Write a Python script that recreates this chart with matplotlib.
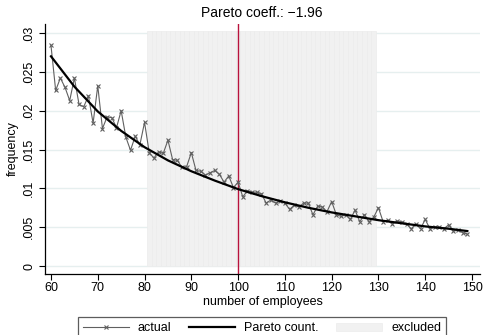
import matplotlib.pyplot as plt

plt.rcParams['font.family'] = ['Liberation Sans', 'DejaVu Sans']

# Data: frequency by number of employees
employees = list(range(60, 150))
actual = [
    .0284, .0226, .0242, .0230, .0213, .0242, .0208, .0205, .0219, .0184,
    .0232, .0177, .0192, .0191, .0178, .0200, .0166, .0149, .0167, .0156,
    .0185, .0146, .0139, .0147, .0145, .0162, .0137, .0136, .0127, .0128,
    .0146, .0123, .0122, .0117, .0120, .0123, .0118, .0108, .0116, .0101,
    .0108, .0089, .0097, .0095, .0095, .0093, .0081, .0085, .0081, .0084,
    .0081, .0073, .0078, .0076, .0081, .0081, .0066, .0077, .0076, .0070,
    .0083, .0066, .0064, .0066, .0060, .0072, .0057, .0066, .0057, .0063,
    .0075, .0057, .0059, .0054, .0058, .0057, .0054, .0048, .0054, .0048,
    .0060, .0048, .0050, .0050, .0048, .0053, .0045, .0046, .0043, .0041,
]

# fitted Pareto count
fit_x = [60, 65, 70, 75, 80, 85, 90, 95, 100, 105, 110, 115, 120, 125, 130, 135, 140, 145, 149]
fit_y = [.0270, .0231, .0199, .0174, .0153, .0136, .0122, .0110, .0099, .0090,
         .0082, .0075, .0069, .0064, .0059, .0055, .0051, .0048, .0045]

# excluded bins (shaded) and threshold
excluded = list(range(81, 130))
excluded_top = 0.0303
cutoff = 100
title = 'Pareto coeff.: \u22121.96'

fig = plt.figure(figsize=(4.84, 3.35), dpi=100)
ax = fig.add_axes([45 / 484, 61 / 335, 435 / 484, 250 / 335])

# grid first, shading on top of it
for t in [0, .005, .01, .015, .02, .025, .03]:
    ax.axhline(t, color='#e6efef', lw=1, zorder=0)

bars = ax.bar(excluded, [excluded_top] * len(excluded), width=1,
              color='#f1f1f1', edgecolor='#ececec', linewidth=0.5, zorder=1,
              label='excluded')

ax.axvline(cutoff, color='#b8123c', lw=1, zorder=2)

l1, = ax.plot(employees, actual, color='#606060', lw=0.8, marker='x',
              markersize=3.5, markeredgewidth=0.8, zorder=3, label='actual')
l2, = ax.plot(fit_x, fit_y, color='black', lw=1.6, zorder=4, label='Pareto count.')

ax.set_xlim(58.72, 151.71)
ax.set_ylim(-0.00103, 0.03116)
ax.set_xticks(range(60, 151, 10))
ax.set_yticks([0, .005, .01, .015, .02, .025, .03])
ax.set_yticklabels(['0', '.005', '.01', '.015', '.02', '.025', '.03'],
                   rotation=90, va='center')
ax.tick_params(labelsize=9, length=4, width=0.8, pad=2)
ax.tick_params(axis='y', pad=3)

for s in ['top', 'right']:
    ax.spines[s].set_visible(False)
for s in ['left', 'bottom']:
    ax.spines[s].set_linewidth(0.9)

ax.set_xlabel('number of employees', fontsize=9, labelpad=1)
ax.set_ylabel('frequency', fontsize=9, labelpad=3)
fig.text(262 / 484, 1 - 13 / 335, title, ha='center', va='center', fontsize=10)

leg = fig.legend([l1, l2, bars], ['actual', 'Pareto count.', 'excluded'],
                 loc='upper center', bbox_to_anchor=(262 / 484, 1 - 311 / 335),
                 ncol=3, fontsize=9, frameon=True, fancybox=False,
                 handlelength=3.7, handletextpad=0.7, columnspacing=1.4,
                 borderpad=0.4)
leg.get_frame().set_edgecolor('#333333')
leg.get_frame().set_linewidth(0.9)

fig.savefig('out.png', dpi=100)
